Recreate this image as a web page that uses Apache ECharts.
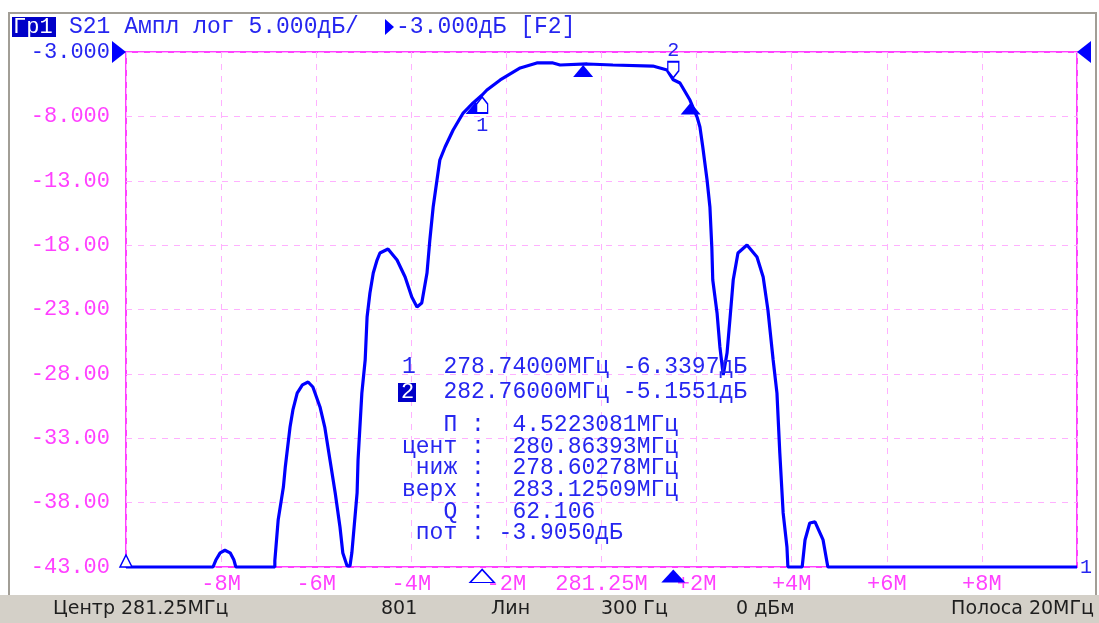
<!DOCTYPE html>
<html>
<head>
<meta charset="utf-8">
<script src="https://cdn.jsdelivr.net/npm/echarts@6/dist/echarts.min.js"></script>
<style>
  html, body { margin: 0; padding: 0; background: #fff; }
  #chart { width: 1099px; height: 623px; }
</style>
</head>
<body>
<div id="chart"></div>
<script>
// трасса S21: смещение от центра (МГц) и уровень (дБ)
const CENTER_MHZ = 281.25
const REF_DB = -3
const TRACE_OFFSET_MHZ = [
  -10, -8.17, -8.11, -8.02, -7.92, -7.81, -7.73, -7.69, -6.87, -6.87,
  -6.80, -6.69, -6.65, -6.55, -6.49, -6.40, -6.29, -6.17, -6.07, -5.92,
  -5.82, -5.71, -5.60, -5.50, -5.44, -5.35, -5.29, -5.25, -5.14, -5.12,
  -5.04, -4.97, -4.93, -4.87, -4.80, -4.72, -4.66, -4.49, -4.30, -4.13,
  -3.99, -3.88, -3.78, -3.67, -3.61, -3.54, -3.46, -3.40, -3.29, -3.12,
  -2.91, -2.70, -2.51, -2.41, -2.13, -1.71, -1.36, -1.02, -0.87, -0.30,
  0.24, 1.08, 1.38, 1.51, 1.65, 1.86, 1.92, 2.01, 2.07, 2.13,
  2.22, 2.28, 2.32, 2.34, 2.43, 2.49, 2.56, 2.64, 2.70, 2.77,
  2.87, 3.06, 3.27, 3.40, 3.50, 3.61, 3.69, 3.75, 3.82, 3.90,
  3.92, 4.22, 4.28, 4.38, 4.49, 4.66, 4.76, 10
]
const TRACE_DB = [
  -43, -43, -42.46, -41.9, -41.7, -41.9, -42.46, -43, -43, -42.5,
  -39.35, -36.79, -35.23, -32.13, -30.8, -29.49, -28.86, -28.63, -29.02, -30.57,
  -32.13, -34.69, -37.25, -39.89, -41.91, -42.92, -42.92, -41.9, -37.25, -34.69,
  -29.49, -26.92, -23.58, -21.72, -20.17, -19.16, -18.61, -18.3, -19.16, -20.48,
  -22.03, -22.8, -22.5, -20.17, -17.6, -15.04, -12.94, -11.39, -10.38, -9.06,
  -7.74, -6.96, -6.34, -5.95, -5.17, -4.24, -3.85, -3.85, -4.01, -3.93,
  -4.01, -4.09, -4.4, -5.16, -5.41, -6.73, -7.27, -8.05, -8.83, -10.38,
  -12.94, -15.04, -18.15, -20.71, -23.27, -25.91, -28.09, -26.38, -23.8, -20.71,
  -18.61, -17.99, -18.92, -20.48, -23.04, -26.92, -29.49, -34.15, -38.8, -41.45,
  -43, -43, -40.9, -39.58, -39.5, -40.9, -43, -43
]

const X_TICK_LABELS = ['', '-8M', '-6M', '-4M', '-2M', '281.25M', '+2M', '+4M', '+6M', '+8M', '']
const Y_TICK_LABELS = ['-3.000', '-8.000', '-13.00', '-18.00', '-23.00', '-28.00', '-33.00', '-38.00', '-43.00']

// маркеры
const MARKER_FREQ = [278.74, 282.76]
const MARKER_DB = [-6.3397, -5.1551]
// ниж, цент, верх
const BW_FREQ = [278.60278, 280.86393, 283.12509]
const BW_DB = [-6.8, -3.93, -6.85]

const TABLE_LINES = [
  '1  278.74000МГц -6.3397дБ',
  '   282.76000МГц -5.1551дБ',
  '   П :  4.5223081МГц',
  'цент :  280.86393МГц',
  ' ниж :  278.60278МГц',
  'верх :  283.12509МГц',
  '   Q :  62.106',
  ' пот : -3.9050дБ',
]
const STATUS_ITEMS = [
  ['Центр 281.25МГц', 53, 'left'],
  ['801', 381, 'left'],
  ['Лин', 491, 'left'],
  ['300 Гц', 601, 'left'],
  ['0 дБм', 736, 'left'],
  ['Полоса 20МГц', 1094, 'right'],
]

const MONO = '"Liberation Mono", "DejaVu Sans Mono", monospace'
const BLUE = '#0000ff'
const TXT_BLUE = '#2626f0'
const MAGENTA = '#ff40ff'

const toY = (db) => db - REF_DB
const off = (f) => f - CENTER_MHZ

const chart = echarts.init(document.getElementById('chart'), null, { renderer: 'canvas' })

const bwPoints = BW_FREQ.map((f, i) => ({
  coord: [off(f), toY(BW_DB[i])],
  symbol: 'triangle',
  symbolSize: [20, 12],
  symbolOffset: [0, 7],
  itemStyle: { color: BLUE },
  label: { show: false },
}))

const markerPoints = [
  {
    coord: [off(MARKER_FREQ[0]), toY(MARKER_DB[0])],
    symbol: 'path://M5,0 L10,7 L10,16 L0,16 L0,7 Z',
    symbolSize: [11, 16],
    symbolOffset: [0, 10],
    itemStyle: { color: '#fff', borderColor: BLUE, borderWidth: 1.5 },
    label: { show: true, formatter: '1', position: 'bottom', distance: 2, color: TXT_BLUE, fontFamily: MONO, fontSize: 20 },
  },
  {
    coord: [off(MARKER_FREQ[1]), toY(MARKER_DB[1])],
    symbol: 'path://M0,0 L10,0 L10,9 L5,16 L0,9 Z',
    symbolSize: [11, 16],
    symbolOffset: [0, -10],
    itemStyle: { color: '#fff', borderColor: BLUE, borderWidth: 1.5 },
    label: { show: true, formatter: '2', position: 'top', distance: 0, color: TXT_BLUE, fontFamily: MONO, fontSize: 20 },
  },
  // стимулы маркеров на оси
  {
    coord: [off(MARKER_FREQ[0]), -40],
    symbol: 'triangle',
    symbolSize: [24, 13],
    symbolOffset: [0, 9],
    itemStyle: { color: '#fff', borderColor: BLUE, borderWidth: 1.5 },
    label: { show: false },
  },
  {
    coord: [off(MARKER_FREQ[1]), -40],
    symbol: 'triangle',
    symbolSize: [24, 13],
    symbolOffset: [0, 9],
    itemStyle: { color: BLUE },
    label: { show: false },
  },
  // уровень опорной линии
  {
    coord: [-10, 0],
    symbol: 'triangle',
    symbolSize: [22, 14],
    symbolRotate: -90,
    symbolOffset: [-7, 0],
    itemStyle: { color: BLUE },
    label: { show: false },
  },
  {
    coord: [10, 0],
    symbol: 'triangle',
    symbolSize: [22, 14],
    symbolRotate: 90,
    symbolOffset: [7, 0],
    itemStyle: { color: BLUE },
    label: { show: false },
  },
  {
    coord: [-10, -40],
    symbol: 'triangle',
    symbolSize: [12, 12],
    symbolOffset: [0, -6],
    itemStyle: { color: '#fff', borderColor: BLUE, borderWidth: 1.5 },
    label: { show: false },
  },
]

const graphics = [
  // рамка окна
  { type: 'rect', shape: { x: 9, y: 13, width: 1087, height: 584 }, style: { fill: 'none', stroke: '#a29e96', lineWidth: 2 }, z: 1 },
  // строка состояния
  { type: 'rect', shape: { x: 0, y: 595, width: 1099, height: 28 }, style: { fill: '#d4d0c8' }, z: 1 },
  // заголовок
  { type: 'rect', shape: { x: 12, y: 17, width: 44, height: 20 }, style: { fill: '#0000c8' }, z: 5 },
  { type: 'text', x: 13, y: 27, style: { text: 'Гр1', font: '22px ' + MONO, fill: '#fff', verticalAlign: 'middle' }, z: 6 },
  { type: 'text', x: 69, y: 27, style: { text: 'S21 Ампл лог 5.000дБ/', font: '23px ' + MONO, fill: TXT_BLUE, verticalAlign: 'middle' }, z: 6 },
  { type: 'polygon', shape: { points: [[385, 19], [394, 27], [385, 35]] }, style: { fill: BLUE }, z: 6 },
  { type: 'text', x: 396, y: 27, style: { text: '-3.000дБ [F2]', font: '23px ' + MONO, fill: TXT_BLUE, verticalAlign: 'middle' }, z: 6 },
  // номер трассы
  { type: 'text', x: 1080, y: 568, style: { text: '1', font: '20px ' + MONO, fill: TXT_BLUE, verticalAlign: 'middle' }, z: 6 },
  // активный маркер в таблице
  { type: 'rect', shape: { x: 398, y: 383, width: 18, height: 19 }, style: { fill: '#0000c8' }, z: 5 },
  { type: 'text', x: 401, y: 392, style: { text: '2', font: '22px ' + MONO, fill: '#fff', verticalAlign: 'middle' }, z: 6 },
]

const TABLE_Y = [367, 392, 425, 447, 468, 490, 512, 533]
TABLE_LINES.forEach((line, i) => {
  graphics.push({
    type: 'text', x: 402, y: TABLE_Y[i],
    style: { text: line, font: '23px ' + MONO, fill: TXT_BLUE, verticalAlign: 'middle' },
    z: 6,
  })
})
STATUS_ITEMS.forEach(([text, x, align]) => {
  graphics.push({
    type: 'text', x: x, y: 609,
    style: { text: text, font: '19px "DejaVu Sans"', fill: '#1e1e1e', align: align, verticalAlign: 'middle' },
    z: 6,
  })
})

chart.setOption({
  animation: false,
  backgroundColor: '#fff',
  grid: {
    left: 126, right: 22, top: 52, bottom: 56,
    show: true, borderColor: MAGENTA, borderWidth: 2, backgroundColor: 'transparent',
  },
  xAxis: {
    type: 'value',
    min: -10, max: 10, interval: 2,
    axisLine: { show: false },
    axisTick: { show: false },
    splitLine: { show: true, lineStyle: { color: '#ffb0ff', type: [6, 6], width: 1 } },
    axisLabel: {
      color: MAGENTA, fontFamily: MONO, fontSize: 22, margin: 6,
      formatter: (v) => X_TICK_LABELS[Math.round((v + 10) / 2)],
    },
  },
  yAxis: {
    type: 'value',
    min: -40, max: 0, interval: 5,
    axisLine: { show: false },
    axisTick: { show: false },
    splitLine: { show: true, lineStyle: { color: '#ffb0ff', type: [6, 6], width: 1 } },
    axisLabel: {
      color: MAGENTA, fontFamily: MONO, fontSize: 22, margin: 16,
      formatter: (v) => {
        const idx = Math.round(-v / 5)
        return idx === 0 ? '{ref|' + Y_TICK_LABELS[idx] + '}' : Y_TICK_LABELS[idx]
      },
      rich: { ref: { color: TXT_BLUE, fontFamily: MONO, fontSize: 22 } },
    },
  },
  series: [
    {
      type: 'line',
      data: TRACE_OFFSET_MHZ.map((f, i) => [f, toY(TRACE_DB[i])]),
      showSymbol: false,
      clip: false,
      lineStyle: { color: BLUE, width: 3.2 },
      z: 3,
      markPoint: {
        silent: true,
        data: bwPoints.concat(markerPoints),
      },
    },
  ],
  graphic: graphics,
})
</script>
</body>
</html>
